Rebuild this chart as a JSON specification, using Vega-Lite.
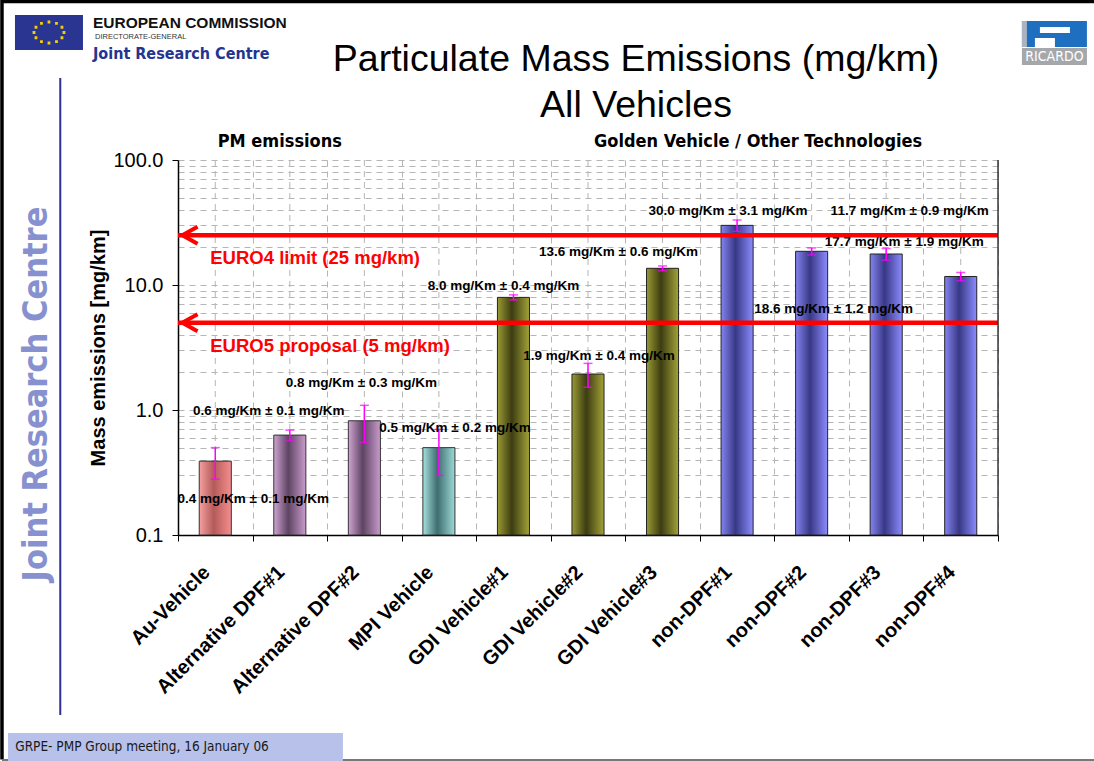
{
  "$schema": "https://vega.github.io/schema/vega-lite/v6.json",
  "width": 820,
  "height": 375,
  "autosize": {"type": "none"},
  "padding": {"left": 178, "top": 160, "right": 96, "bottom": 226},
  "background": "white",
  "title": {
    "text": ["Particulate Mass Emissions (mg/km)", "All Vehicles"],
    "font": "Liberation Sans",
    "fontSize": 37.5,
    "fontWeight": "normal",
    "color": "black",
    "anchor": "middle",
    "frame": "group",
    "dx": 48,
    "dy": 130,
    "lineHeight": 46,
    "offset": 0
  },
  "config": {
    "view": {"stroke": null},
    "font": "Liberation Sans",
    "axisX": {
      "tickBand": "extent",
      "grid": true,
      "gridColor": "#b5b5b5",
      "gridDash": [6, 5],
      "tickSize": 6,
      "tickColor": "black",
      "domainColor": "black",
      "domainWidth": 1.5,
      "labelAngle": -45,
      "labelAlign": "right",
      "labelBaseline": "middle",
      "labelFont": "Liberation Sans",
      "labelFontWeight": "bold",
      "labelFontSize": 20,
      "labelColor": "black",
      "labelPadding": 28,
      "labelOffset": -9,
      "labelOverlap": false,
      "labelLimit": 0
    },
    "axisY": {
      "grid": true,
      "gridColor": "#b5b5b5",
      "gridDash": [6, 5],
      "tickSize": 6,
      "domainColor": "black",
      "domainWidth": 1.5,
      "labelFont": "Liberation Sans",
      "labelFontSize": 20,
      "labelColor": "black",
      "labelPadding": 9,
      "titleFont": "Liberation Sans",
      "titleFontSize": 20,
      "titleFontWeight": "bold",
      "titleColor": "black",
      "titlePadding": 4
    }
  },
  "datasets": {
    "bars": [
      {"vehicle": "Au-Vehicle", "group": "au", "value": 0.39, "err": 0.11, "label": "0.4 mg/Km ± 0.1 mg/Km"},
      {"vehicle": "Alternative DPF#1", "group": "alt", "value": 0.63, "err": 0.06, "label": "0.6 mg/Km ± 0.1 mg/Km"},
      {"vehicle": "Alternative DPF#2", "group": "alt", "value": 0.82, "err": 0.27, "label": "0.8 mg/Km ± 0.3 mg/Km"},
      {"vehicle": "MPI Vehicle", "group": "mpi", "value": 0.5, "err": 0.2, "label": "0.5 mg/Km ± 0.2 mg/Km"},
      {"vehicle": "GDI Vehicle#1", "group": "gdi", "value": 7.96, "err": 0.38, "label": "8.0 mg/Km ± 0.4 mg/Km"},
      {"vehicle": "GDI Vehicle#2", "group": "gdi", "value": 1.94, "err": 0.42, "label": "1.9 mg/Km ± 0.4 mg/Km"},
      {"vehicle": "GDI Vehicle#3", "group": "gdi", "value": 13.6, "err": 0.6, "label": "13.6 mg/Km ± 0.6 mg/Km"},
      {"vehicle": "non-DPF#1", "group": "nondpf", "value": 30.0, "err": 3.1, "label": "30.0 mg/Km ± 3.1 mg/Km"},
      {"vehicle": "non-DPF#2", "group": "nondpf", "value": 18.6, "err": 1.2, "label": "18.6 mg/Km ± 1.2 mg/Km"},
      {"vehicle": "non-DPF#3", "group": "nondpf", "value": 17.7, "err": 1.9, "label": "17.7 mg/Km ± 1.9 mg/Km"},
      {"vehicle": "non-DPF#4", "group": "nondpf", "value": 11.7, "err": 0.9, "label": "11.7 mg/Km ± 0.9 mg/Km"}
    ],
    "limits": [
      {"limit": 25, "label": "EURO4 limit (25 mg/km)"},
      {"limit": 5, "label": "EURO5 proposal (5 mg/km)"}
    ]
  },
  "data": {"name": "bars"},
  "layer": [
    {
      "mark": {"type": "rule", "color": "#b5b5b5", "strokeDash": [6, 5], "strokeWidth": 1},
      "encoding": {
        "x": {
          "field": "vehicle", "type": "nominal", "sort": null, "title": null,
          "scale": {
            "domain": ["Au-Vehicle", "Alternative DPF#1", "Alternative DPF#2", "MPI Vehicle", "GDI Vehicle#1", "GDI Vehicle#2", "GDI Vehicle#3", "non-DPF#1", "non-DPF#2", "non-DPF#3", "non-DPF#4"],
            "paddingInner": 0,
            "paddingOuter": 0
          }
        }
      }
    },
    {
      "transform": [{"filter": "datum.group == 'au'"}],
      "mark": {"type": "bar", "stroke": "#333333", "strokeWidth": 1, "width": {"band": 0.43},
        "fill": {"gradient": "linear", "x1": 0, "x2": 1, "y1": 0, "y2": 0,
          "stops": [{"offset": 0, "color": "#f5a0a0"}, {"offset": 0.45, "color": "#b45a5a"}, {"offset": 1, "color": "#f78e8e"}]}},
      "encoding": {
        "x": {"field": "vehicle", "type": "nominal", "title": null},
        "y": {
          "field": "value", "type": "quantitative", "title": "Mass emissions [mg/km]",
          "scale": {"type": "log", "domain": [0.1, 100], "nice": false},
          "axis": {
            "values": [0.1, 0.2, 0.3, 0.4, 0.5, 0.6, 0.7, 0.8, 0.9, 1, 2, 3, 4, 5, 6, 7, 8, 9, 10, 20, 30, 40, 50, 60, 70, 80, 90, 100],
            "labelExpr": "(datum.value == 0.1 || datum.value == 1 || datum.value == 10 || datum.value == 100) ? format(datum.value, '.1f') : ''",
            "tickColor": {"condition": {"test": "datum.value == 0.1 || datum.value == 1 || datum.value == 10 || datum.value == 100", "value": "black"}, "value": "transparent"}
          }
        },
        "y2": {"datum": 0.1}
      }
    },
    {
      "transform": [{"filter": "datum.group == 'alt'"}],
      "mark": {"type": "bar", "stroke": "#333333", "strokeWidth": 1, "width": {"band": 0.43},
        "fill": {"gradient": "linear", "x1": 0, "x2": 1, "y1": 0, "y2": 0,
          "stops": [{"offset": 0, "color": "#d0a4d3"}, {"offset": 0.45, "color": "#5e4463"}, {"offset": 1, "color": "#c99ccc"}]}},
      "encoding": {
        "x": {"field": "vehicle", "type": "nominal", "title": null},
        "y": {"field": "value", "type": "quantitative", "title": "Mass emissions [mg/km]"},
        "y2": {"datum": 0.1}
      }
    },
    {
      "transform": [{"filter": "datum.group == 'mpi'"}],
      "mark": {"type": "bar", "stroke": "#333333", "strokeWidth": 1, "width": {"band": 0.43},
        "fill": {"gradient": "linear", "x1": 0, "x2": 1, "y1": 0, "y2": 0,
          "stops": [{"offset": 0, "color": "#a8e0e0"}, {"offset": 0.45, "color": "#3e6e6e"}, {"offset": 1, "color": "#9fd8d8"}]}},
      "encoding": {
        "x": {"field": "vehicle", "type": "nominal", "title": null},
        "y": {"field": "value", "type": "quantitative", "title": "Mass emissions [mg/km]"},
        "y2": {"datum": 0.1}
      }
    },
    {
      "transform": [{"filter": "datum.group == 'gdi'"}],
      "mark": {"type": "bar", "stroke": "#222222", "strokeWidth": 1, "width": {"band": 0.43},
        "fill": {"gradient": "linear", "x1": 0, "x2": 1, "y1": 0, "y2": 0,
          "stops": [{"offset": 0, "color": "#9a9a34"}, {"offset": 0.45, "color": "#3c3c12"}, {"offset": 1, "color": "#a3a338"}]}},
      "encoding": {
        "x": {"field": "vehicle", "type": "nominal", "title": null},
        "y": {"field": "value", "type": "quantitative", "title": "Mass emissions [mg/km]"},
        "y2": {"datum": 0.1}
      }
    },
    {
      "transform": [{"filter": "datum.group == 'nondpf'"}],
      "mark": {"type": "bar", "stroke": "#222222", "strokeWidth": 1, "width": {"band": 0.43},
        "fill": {"gradient": "linear", "x1": 0, "x2": 1, "y1": 0, "y2": 0,
          "stops": [{"offset": 0, "color": "#8484f0"}, {"offset": 0.45, "color": "#383886"}, {"offset": 1, "color": "#8c8cff"}]}},
      "encoding": {
        "x": {"field": "vehicle", "type": "nominal", "title": null},
        "y": {"field": "value", "type": "quantitative", "title": "Mass emissions [mg/km]"},
        "y2": {"datum": 0.1}
      }
    },
    {
      "mark": {"type": "errorbar", "color": "#ff00ff", "thickness": 1.5, "ticks": {"size": 9, "color": "#ff00ff", "thickness": 1.5}},
      "encoding": {
        "x": {"field": "vehicle", "type": "nominal", "title": null},
        "y": {"field": "value", "type": "quantitative", "title": "Mass emissions [mg/km]"},
        "yError": {"field": "err"}
      }
    },
    {"transform": [{"filter": "datum.vehicle == 'Au-Vehicle'"}], "mark": {"type": "text", "fontSize": 13.5, "fontWeight": "bold", "color": "black", "dx": 38, "dy": 38}, "encoding": {"x": {"field": "vehicle", "type": "nominal", "title": null}, "y": {"field": "value", "type": "quantitative", "title": "Mass emissions [mg/km]"}, "text": {"field": "label"}}},
    {"transform": [{"filter": "datum.vehicle == 'Alternative DPF#1'"}], "mark": {"type": "text", "fontSize": 13.5, "fontWeight": "bold", "color": "black", "dx": -21, "dy": -24}, "encoding": {"x": {"field": "vehicle", "type": "nominal", "title": null}, "y": {"field": "value", "type": "quantitative", "title": "Mass emissions [mg/km]"}, "text": {"field": "label"}}},
    {"transform": [{"filter": "datum.vehicle == 'Alternative DPF#2'"}], "mark": {"type": "text", "fontSize": 13.5, "fontWeight": "bold", "color": "black", "dx": -3, "dy": -38}, "encoding": {"x": {"field": "vehicle", "type": "nominal", "title": null}, "y": {"field": "value", "type": "quantitative", "title": "Mass emissions [mg/km]"}, "text": {"field": "label"}}},
    {"transform": [{"filter": "datum.vehicle == 'MPI Vehicle'"}], "mark": {"type": "text", "fontSize": 13.5, "fontWeight": "bold", "color": "black", "dx": 16, "dy": -20}, "encoding": {"x": {"field": "vehicle", "type": "nominal", "title": null}, "y": {"field": "value", "type": "quantitative", "title": "Mass emissions [mg/km]"}, "text": {"field": "label"}}},
    {"transform": [{"filter": "datum.vehicle == 'GDI Vehicle#1'"}], "mark": {"type": "text", "fontSize": 13.5, "fontWeight": "bold", "color": "black", "dx": -10, "dy": -11}, "encoding": {"x": {"field": "vehicle", "type": "nominal", "title": null}, "y": {"field": "value", "type": "quantitative", "title": "Mass emissions [mg/km]"}, "text": {"field": "label"}}},
    {"transform": [{"filter": "datum.vehicle == 'GDI Vehicle#2'"}], "mark": {"type": "text", "fontSize": 13.5, "fontWeight": "bold", "color": "black", "dx": 11, "dy": -18}, "encoding": {"x": {"field": "vehicle", "type": "nominal", "title": null}, "y": {"field": "value", "type": "quantitative", "title": "Mass emissions [mg/km]"}, "text": {"field": "label"}}},
    {"transform": [{"filter": "datum.vehicle == 'GDI Vehicle#3'"}], "mark": {"type": "text", "fontSize": 13.5, "fontWeight": "bold", "color": "black", "dx": -44, "dy": -16}, "encoding": {"x": {"field": "vehicle", "type": "nominal", "title": null}, "y": {"field": "value", "type": "quantitative", "title": "Mass emissions [mg/km]"}, "text": {"field": "label"}}},
    {"transform": [{"filter": "datum.vehicle == 'non-DPF#1'"}], "mark": {"type": "text", "fontSize": 13.5, "fontWeight": "bold", "color": "black", "dx": -9, "dy": -14}, "encoding": {"x": {"field": "vehicle", "type": "nominal", "title": null}, "y": {"field": "value", "type": "quantitative", "title": "Mass emissions [mg/km]"}, "text": {"field": "label"}}},
    {"transform": [{"filter": "datum.vehicle == 'non-DPF#2'"}], "mark": {"type": "text", "fontSize": 13.5, "fontWeight": "bold", "color": "black", "dx": 22, "dy": 58}, "encoding": {"x": {"field": "vehicle", "type": "nominal", "title": null}, "y": {"field": "value", "type": "quantitative", "title": "Mass emissions [mg/km]"}, "text": {"field": "label"}}},
    {"transform": [{"filter": "datum.vehicle == 'non-DPF#3'"}], "mark": {"type": "text", "fontSize": 13.5, "fontWeight": "bold", "color": "black", "dx": 18, "dy": -12}, "encoding": {"x": {"field": "vehicle", "type": "nominal", "title": null}, "y": {"field": "value", "type": "quantitative", "title": "Mass emissions [mg/km]"}, "text": {"field": "label"}}},
    {"transform": [{"filter": "datum.vehicle == 'non-DPF#4'"}], "mark": {"type": "text", "fontSize": 13.5, "fontWeight": "bold", "color": "black", "dx": -51, "dy": -65}, "encoding": {"x": {"field": "vehicle", "type": "nominal", "title": null}, "y": {"field": "value", "type": "quantitative", "title": "Mass emissions [mg/km]"}, "text": {"field": "label"}}},
    {
      "data": {"name": "limits"},
      "mark": {"type": "rule", "color": "#ff0000", "strokeWidth": 4.5},
      "encoding": {"y": {"field": "limit", "type": "quantitative", "title": "Mass emissions [mg/km]"}}
    },
    {
      "data": {"name": "limits"},
      "mark": {"type": "point", "shape": "M1.8,-1L0,0L1.8,1", "size": 289, "filled": false, "color": "#ff0000", "strokeWidth": 4, "opacity": 1, "xOffset": -33},
      "encoding": {"x": {"datum": "Au-Vehicle", "type": "nominal", "title": null}, "y": {"field": "limit", "type": "quantitative", "title": "Mass emissions [mg/km]"}}
    },
    {
      "data": {"name": "limits"},
      "mark": {"type": "text", "align": "left", "baseline": "middle", "dx": -5, "dy": 23, "fontSize": 18.5, "fontWeight": "bold", "color": "#ff0000"},
      "encoding": {"x": {"datum": "Au-Vehicle", "type": "nominal", "title": null}, "y": {"field": "limit", "type": "quantitative", "title": "Mass emissions [mg/km]"}, "text": {"field": "label"}}
    },
    {
      "transform": [{"filter": "datum.vehicle == 'non-DPF#4'"}],
      "mark": {"type": "rule", "color": "#333333", "strokeWidth": 1.5, "xOffset": 37.3},
      "encoding": {"x": {"field": "vehicle", "type": "nominal", "title": null}}
    },
    {
      "data": {"values": [{}]},
      "mark": {"type": "text", "text": "PM emissions", "align": "center", "baseline": "middle", "font": "Liberation Sans Narrow, DejaVu Sans Condensed, sans-serif", "fontSize": 18, "fontWeight": "bold", "color": "black", "dx": -10, "dy": -18},
      "encoding": {"x": {"datum": "Alternative DPF#1", "type": "nominal", "title": null}, "y": {"datum": 100, "type": "quantitative", "title": "Mass emissions [mg/km]"}}
    },
    {
      "data": {"values": [{}]},
      "mark": {"type": "text", "text": "Golden Vehicle / Other Technologies", "align": "center", "baseline": "middle", "font": "Liberation Sans Narrow, DejaVu Sans Condensed, sans-serif", "fontSize": 18, "fontWeight": "bold", "color": "black", "dx": 21, "dy": -18},
      "encoding": {"x": {"datum": "non-DPF#1", "type": "nominal", "title": null}, "y": {"datum": 100, "type": "quantitative", "title": "Mass emissions [mg/km]"}}
    },
    {
      "data": {"values": [{}]},
      "mark": {"type": "point", "shape": "M5.47,-3.79H-5.45V3.79", "size": 40000, "filled": false, "color": "black", "strokeWidth": 3.5, "opacity": 1, "xOffset": 331.7, "yOffset": 220.5},
      "encoding": {"x": {"datum": "Au-Vehicle", "type": "nominal", "title": null}, "y": {"datum": 100, "type": "quantitative", "title": "Mass emissions [mg/km]"}}
    },
    {
      "data": {"values": [{}]},
      "mark": {"type": "point", "shape": "M-5.45,3.795H5.47", "size": 40000, "filled": false, "color": "#777777", "strokeWidth": 2, "opacity": 1, "xOffset": 331.7, "yOffset": 220.5},
      "encoding": {"x": {"datum": "Au-Vehicle", "type": "nominal", "title": null}, "y": {"datum": 100, "type": "quantitative", "title": "Mass emissions [mg/km]"}}
    },
    {
      "data": {"values": [{}]},
      "mark": {"type": "point", "shape": "M-3.4,-1.75H3.4V1.75H-3.4Z", "size": 400, "filled": true, "color": "#2a3592", "strokeWidth": 0, "opacity": 1, "xOffset": -166.3, "yOffset": -127.5},
      "encoding": {"x": {"datum": "Au-Vehicle", "type": "nominal", "title": null}, "y": {"datum": 100, "type": "quantitative", "title": "Mass emissions [mg/km]"}}
    },
    {
      "data": {"values": [{}]},
      "mark": {"type": "point", "shape": "M1.36,-0.14h0.28v0.28h-0.28z M1.16,0.385h0.28v0.28h-0.28z M0.61,0.769h0.28v0.28h-0.28z M-0.14,0.91h0.28v0.28h-0.28z M-0.89,0.769h0.28v0.28h-0.28z M-1.44,0.385h0.28v0.28h-0.28z M-1.64,-0.14h0.28v0.28h-0.28z M-1.44,-0.665h0.28v0.28h-0.28z M-0.89,-1.049h0.28v0.28h-0.28z M-0.14,-1.19h0.28v0.28h-0.28z M0.61,-1.049h0.28v0.28h-0.28z M1.16,-0.665h0.28v0.28h-0.28z", "size": 400, "filled": true, "color": "#f5d000", "strokeWidth": 0, "opacity": 1, "xOffset": -166.3, "yOffset": -127.5},
      "encoding": {"x": {"datum": "Au-Vehicle", "type": "nominal", "title": null}, "y": {"datum": 100, "type": "quantitative", "title": "Mass emissions [mg/km]"}}
    },
    {
      "data": {"values": [{}]},
      "mark": {"type": "text", "text": "EUROPEAN COMMISSION", "align": "left", "baseline": "middle", "fontSize": 15.5, "fontWeight": "bold", "color": "#111111", "xOffset": -122.3, "yOffset": -137.5},
      "encoding": {"x": {"datum": "Au-Vehicle", "type": "nominal", "title": null}, "y": {"datum": 100, "type": "quantitative", "title": "Mass emissions [mg/km]"}}
    },
    {
      "data": {"values": [{}]},
      "mark": {"type": "text", "text": "DIRECTORATE-GENERAL", "align": "left", "baseline": "middle", "fontSize": 7.5, "color": "#333333", "xOffset": -120.3, "yOffset": -123},
      "encoding": {"x": {"datum": "Au-Vehicle", "type": "nominal", "title": null}, "y": {"datum": 100, "type": "quantitative", "title": "Mass emissions [mg/km]"}}
    },
    {
      "data": {"values": [{}]},
      "mark": {"type": "text", "text": "Joint Research Centre", "align": "left", "baseline": "middle", "font": "Liberation Sans Narrow, DejaVu Sans Condensed, sans-serif", "fontSize": 16, "fontWeight": "bold", "color": "#233590", "xOffset": -122.3, "yOffset": -106.5},
      "encoding": {"x": {"datum": "Au-Vehicle", "type": "nominal", "title": null}, "y": {"datum": 100, "type": "quantitative", "title": "Mass emissions [mg/km]"}}
    },
    {
      "data": {"values": [{}]},
      "mark": {"type": "point", "shape": "M-3.25,-1.3H3.25V1.3H-3.25Z", "size": 400, "filled": true, "color": "#1f6fc1", "strokeWidth": 0, "opacity": 1, "xOffset": 93.7, "yOffset": -126},
      "encoding": {"x": {"datum": "non-DPF#4", "type": "nominal", "title": null}, "y": {"datum": 100, "type": "quantitative", "title": "Mass emissions [mg/km]"}}
    },
    {
      "data": {"values": [{}]},
      "mark": {"type": "point", "shape": "M-3.25,-1.3H-2.75V1.3H-3.25Z", "size": 400, "filled": true, "color": "#a9b3c2", "strokeWidth": 0, "opacity": 1, "xOffset": 93.7, "yOffset": -126},
      "encoding": {"x": {"datum": "non-DPF#4", "type": "nominal", "title": null}, "y": {"datum": 100, "type": "quantitative", "title": "Mass emissions [mg/km]"}}
    },
    {
      "data": {"values": [{}]},
      "mark": {"type": "point", "shape": "M-1.45,-0.7H1.55V-0.1H-1.45Z M-1.95,0.4H0.05V1.3H-1.95Z", "size": 400, "filled": true, "color": "white", "strokeWidth": 0, "opacity": 1, "xOffset": 93.7, "yOffset": -126},
      "encoding": {"x": {"datum": "non-DPF#4", "type": "nominal", "title": null}, "y": {"datum": 100, "type": "quantitative", "title": "Mass emissions [mg/km]"}}
    },
    {
      "data": {"values": [{}]},
      "mark": {"type": "point", "shape": "M-3.25,-0.85H3.25V0.85H-3.25Z", "size": 400, "filled": true, "color": "#a5a8ab", "strokeWidth": 0, "opacity": 1, "xOffset": 93.7, "yOffset": -103.5},
      "encoding": {"x": {"datum": "non-DPF#4", "type": "nominal", "title": null}, "y": {"datum": 100, "type": "quantitative", "title": "Mass emissions [mg/km]"}}
    },
    {
      "data": {"values": [{}]},
      "mark": {"type": "text", "text": "RICARDO", "align": "center", "baseline": "middle", "font": "Liberation Sans Narrow, DejaVu Sans Condensed, sans-serif", "fontSize": 14, "color": "white", "xOffset": 93.7, "yOffset": -103},
      "encoding": {"x": {"datum": "non-DPF#4", "type": "nominal", "title": null}, "y": {"datum": 100, "type": "quantitative", "title": "Mass emissions [mg/km]"}}
    },
    {
      "data": {"values": [{}]},
      "mark": {"type": "rule", "color": "#2e3192", "strokeWidth": 2, "xOffset": -155, "yOffset": -82, "y2Offset": 180},
      "encoding": {"x": {"datum": "Au-Vehicle", "type": "nominal", "title": null}, "y": {"datum": 100, "type": "quantitative", "title": "Mass emissions [mg/km]"}, "y2": {"datum": 0.1}}
    },
    {
      "data": {"values": [{}]},
      "mark": {"type": "text", "text": "Joint Research Centre", "angle": 270, "align": "center", "baseline": "middle", "font": "Liberation Sans Narrow, DejaVu Sans Condensed, sans-serif", "fontSize": 34, "fontWeight": "bold", "color": "#8791cf", "xOffset": -178, "yOffset": -16},
      "encoding": {"x": {"datum": "Au-Vehicle", "type": "nominal", "title": null}, "y": {"datum": 1, "type": "quantitative", "title": "Mass emissions [mg/km]"}}
    },
    {
      "data": {"values": [{}]},
      "mark": {"type": "point", "shape": "M-11.96,-1H11.96V1H-11.96Z", "size": 784, "filled": true, "color": "#b7c1ea", "strokeWidth": 0, "opacity": 1, "xOffset": -39.8, "yOffset": 212},
      "encoding": {"x": {"datum": "Au-Vehicle", "type": "nominal", "title": null}, "y": {"datum": 0.1, "type": "quantitative", "title": "Mass emissions [mg/km]"}}
    },
    {
      "data": {"values": [{}]},
      "mark": {"type": "text", "text": "GRPE- PMP Group meeting, 16 January 06", "align": "left", "baseline": "middle", "font": "Liberation Sans Narrow, DejaVu Sans Condensed, sans-serif", "fontSize": 13.5, "color": "#1a1a1a", "xOffset": -200, "yOffset": 212},
      "encoding": {"x": {"datum": "Au-Vehicle", "type": "nominal", "title": null}, "y": {"datum": 0.1, "type": "quantitative", "title": "Mass emissions [mg/km]"}}
    }
  ]
}
